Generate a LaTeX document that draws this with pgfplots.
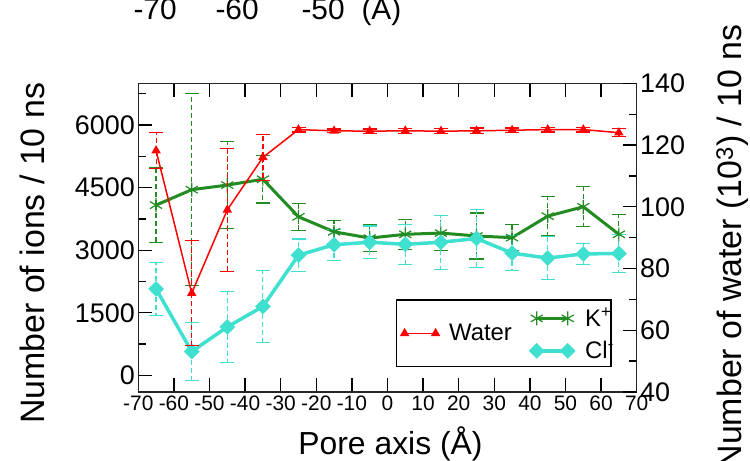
\documentclass[border=0pt]{standalone}
\usepackage{pgfplots}
\usepackage{pgfplotstable}
\pgfplotsset{compat=1.18}
\usepackage{fontspec}
\setmainfont{Liberation Sans}
\definecolor{kgreen}{RGB}{34,139,34}
\definecolor{clcyan}{RGB}{64,224,208}
\definecolor{wred}{RGB}{255,0,0}

\pgfplotstableread{
x y e
-65 118.2 5.8
-55 72.0 17.0
-45 99.0 20.0
-35 116.0 7.5
-25 125.0 0.8
-15 124.6 0.6
-5 124.5 0.7
5 124.6 0.8
15 124.5 0.8
25 124.6 0.9
35 124.8 0.7
45 125.0 0.8
55 125.0 0.8
65 124.0 1.3
}\waterdata

\pgfplotstableread{
x y e
-65 4080 900
-55 4450 2300
-45 4560 1050
-35 4700 570
-25 3800 320
-15 3440 280
-5 3290 330
5 3380 360
15 3410 420
25 3340 550
35 3300 310
45 3815 470
55 4040 480
65 3380 480
}\kdata

\pgfplotstableread{
x y e
-65 2070 630
-55 570 700
-45 1160 850
-35 1650 870
-25 2880 390
-15 3130 370
-5 3190 390
5 3140 480
15 3190 650
25 3280 700
35 2930 420
45 2810 520
55 2910 250
65 2920 455
}\cldata

\begin{document}
\begin{tikzpicture}
\pgfplotsset{
  every tick/.append style={black, line width=1.3bp},
  /pgf/number format/assume math mode=true,
}
\begin{axis}[
  at={(138.3bp,69bp)}, anchor=south west,
  scale only axis, width=498.4bp, height=308.7bp,
  xmin=-70, xmax=70, ymin=-400, ymax=7000,
  xtick={-70,-60,...,70},
  xticklabels={-70,-60,-50,-40,-30,-20,-10,0,10,20,30,40,50,60,70},
  ytick={0,1500,3000,4500,6000},
  yticklabels={0,1500,3000,4500,6000},
  minor ytick={750,2250,3750,5250,6750},
  scaled ticks=false,
  ytick pos=left, xtick pos=both,
  tick align=inside,
  major tick length=14bp, minor tick length=8bp,
  axis line style={line width=1.5bp, black!85},
  xticklabel style={font=\fontsize{21}{24}\selectfont},
  yticklabel style={font=\fontsize{27}{30}\selectfont},
  ylabel={Number of ions / 10 ns},
  xlabel={Pore axis (Å)},
  every axis y label/.style={at={(axis description cs:-0.189,0.449)}, rotate=90, anchor=base, font=\fontsize{34}{40}\selectfont},
  every axis x label/.style={at={(axis description cs:0.506,-0.204)}, anchor=base, font=\fontsize{32}{38}\selectfont},
  legend style={draw=none, fill=none, at={(rel axis cs:0.784,0.187)}, anchor=west,
    inner sep=0pt, row sep=9bp, font=\fontsize{24}{28}\selectfont,
    /tikz/every odd column/.style={column sep=8bp}},
  legend cell align=left,
  legend image code/.code={\draw[mark repeat=1,mark phase=1,#1] plot coordinates {(0bp,0bp) (31bp,0bp)};},
]
\addplot[kgreen, line width=3bp, mark=asterisk, mark size=7bp, mark options={solid, line width=1.2bp},
  error bars/.cd, y dir=both, y explicit,
  error bar style={dash pattern=on 5bp off 3bp, line width=1.2bp, kgreen},
  error mark options={rotate=90, mark size=7bp, solid, line width=1.2bp, kgreen}]
  table[x=x, y=y, y error=e] {\kdata};
\addlegendentry{K\textsuperscript{+}}
\addplot[clcyan, line width=3.5bp, mark=square*, mark size=5.3bp, mark options={solid, rotate=45, fill=clcyan, line width=0.5bp},
  error bars/.cd, y dir=both, y explicit,
  error bar style={dash pattern=on 5bp off 3bp, line width=1.2bp, clcyan},
  error mark options={rotate=90, mark size=7bp, solid, line width=1.2bp, clcyan}]
  table[x=x, y=y, y error=e] {\cldata};
\addlegendentry{Cl\textsuperscript{-}}
\draw[line width=1.5bp, black, fill=white] (rel axis cs:0.5185,0.082) rectangle (rel axis cs:0.9484,0.298);
\end{axis}

\begin{axis}[
  at={(138.3bp,69bp)}, anchor=south west,
  scale only axis, width=498.4bp, height=308.7bp,
  xmin=-70, xmax=70, ymin=40, ymax=140,
  axis x line=none, axis y line*=right,
  ytick={40,60,...,140}, yticklabels={40,60,80,100,120,140},
  minor ytick={50,70,...,130},
  tick align=inside,
  major tick length=14bp, minor tick length=8bp,
  axis line style={line width=1.5bp, black!85},
  yticklabel style={font=\fontsize{27}{30}\selectfont},
  ylabel={Number of water (10\textsuperscript{3}) / 10 ns},
  every axis y label/.style={at={(axis description cs:1.211,0.470)}, rotate=90, anchor=base, font=\fontsize{34}{40}\selectfont},
  legend style={draw=none, fill=none, at={(rel axis cs:0.527,0.19)}, anchor=west,
    inner sep=0pt, font=\fontsize{24}{28}\selectfont,
    /tikz/every odd column/.style={column sep=8bp}},
  legend cell align=left,
  legend image code/.code={\draw[mark repeat=1,mark phase=1,#1] plot coordinates {(0bp,0bp) (31bp,0bp)};},
]
\addplot[wred, line width=1.5bp, mark=triangle*, mark size=4bp, mark options={solid},
  error bars/.cd, y dir=both, y explicit,
  error bar style={dash pattern=on 5bp off 3bp, line width=1.2bp, wred},
  error mark options={rotate=90, mark size=7bp, solid, line width=1.2bp, wred}]
  table[x=x, y=y, y error=e] {\waterdata};
\addlegendentry{Water}
\end{axis}

\node[anchor=base west, font=\fontsize{30}{34}\selectfont] at (130bp,441bp) {-70};
\node[anchor=base west, font=\fontsize{30}{34}\selectfont] at (212bp,441bp) {-60};
\node[anchor=base west, font=\fontsize{30}{34}\selectfont] at (298bp,441bp) {-50};
\node[anchor=base west, font=\fontsize{30}{34}\selectfont] at (358bp,441bp) {(A)};

\pgfresetboundingbox
\useasboundingbox (0bp,0bp) rectangle (750bp,461bp);
\end{tikzpicture}
\end{document}
